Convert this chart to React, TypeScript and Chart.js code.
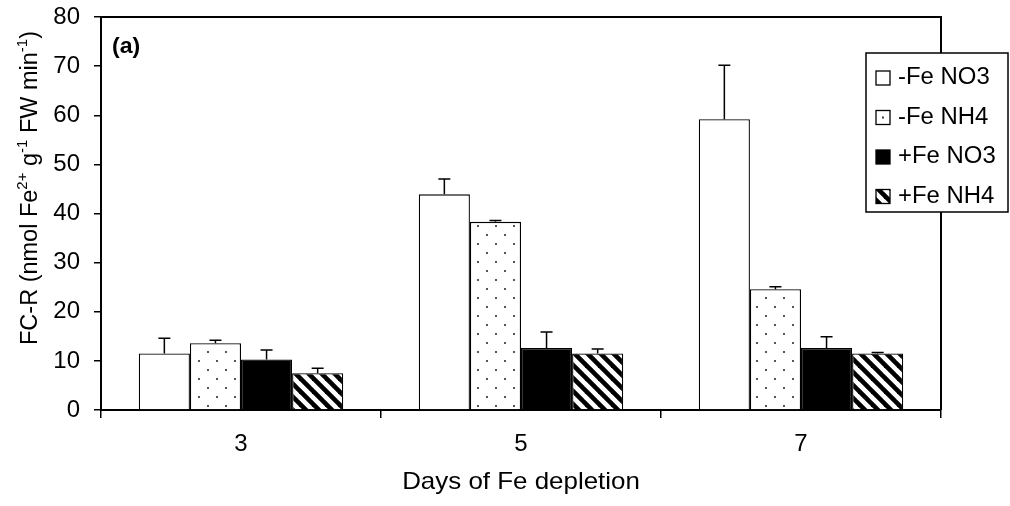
import React, { useEffect, useRef } from 'react';
import { Chart, registerables } from 'chart.js';

Chart.register(...registerables);

// ---- data ----
const days = ['3', '5', '7'];
const seriesLabels = ['-Fe NO3', '-Fe NH4', '+Fe NO3', '+Fe NH4'];
const minusFeNO3 = [11.5, 43.9, 59.2];
const minusFeNH4 = [13.6, 38.3, 24.6];
const plusFeNO3 = [10.3, 12.6, 12.6];
const plusFeNH4 = [7.5, 11.5, 11.5];
const minusFeNO3Err = [3.1, 3.1, 11.0];
const minusFeNH4Err = [0.6, 0.3, 0.5];
const plusFeNO3Err = [1.9, 3.3, 2.3];
const plusFeNH4Err = [1.0, 0.9, 0.2];
const yMin = 0;
const yMax = 80;
const yStep = 10;
const panelLabel = '(a)';
const xTitle = 'Days of Fe depletion';
const yTitleParts = [
  { t: 'FC-R (nmol Fe', sup: false },
  { t: '2+', sup: true },
  { t: ' g', sup: false },
  { t: '-1', sup: true },
  { t: ' FW min', sup: false },
  { t: '-1', sup: true },
  { t: ')', sup: false },
];

const FAMILY = '"Liberation Sans", Arial, Helvetica, sans-serif';

function makeDots(): CanvasPattern | string {
  const c = document.createElement('canvas');
  c.width = 18;
  c.height = 18;
  const g = c.getContext('2d');
  if (!g) return '#fff';
  g.fillStyle = '#fff';
  g.fillRect(0, 0, 18, 18);
  g.fillStyle = '#555';
  g.fillRect(0, 0, 2, 2);
  g.fillRect(9, 9, 2, 2);
  return g.createPattern(c, 'repeat') || '#fff';
}

function makeStripes(): CanvasPattern | string {
  const P = 13;
  const c = document.createElement('canvas');
  c.width = P;
  c.height = P;
  const g = c.getContext('2d');
  if (!g) return '#000';
  g.fillStyle = '#fff';
  g.fillRect(0, 0, P, P);
  g.strokeStyle = '#000';
  g.lineWidth = P / (2 * Math.SQRT2);
  for (const k of [-1, 0, 1]) {
    g.beginPath();
    g.moveTo(k * P - 3, -3);
    g.lineTo(k * P + P + 3, P + 3);
    g.stroke();
  }
  return g.createPattern(c, 'repeat') || '#000';
}

function stretchText(
  ctx: CanvasRenderingContext2D,
  text: string,
  x: number,
  y: number,
  font: string,
  sx: number,
  align: CanvasTextAlign,
  baseline: CanvasTextBaseline
) {
  ctx.save();
  ctx.font = font;
  ctx.textAlign = align;
  ctx.textBaseline = baseline;
  ctx.fillStyle = '#000';
  ctx.translate(x, y);
  ctx.scale(sx, 1);
  ctx.fillText(text, 0, 0);
  ctx.restore();
}

export default function App() {
  const ref = useRef<HTMLCanvasElement>(null);

  useEffect(() => {
    const canvas = ref.current;
    if (!canvas) return;
    const dots = makeDots();
    const stripes = makeStripes();
    const fills: any[] = ['#ffffff', dots, '#000000', stripes];
    const values = [minusFeNO3, minusFeNH4, plusFeNO3, plusFeNH4];
    const errors = [minusFeNO3Err, minusFeNH4Err, plusFeNO3Err, plusFeNH4Err];

    const custom = {
      id: 'custom',
      afterDatasetsDraw(chart: any) {
        const ctx: CanvasRenderingContext2D = chart.ctx;
        const ys = chart.scales.y;
        ctx.save();
        ctx.strokeStyle = '#000';
        ctx.lineWidth = 1.5;
        chart.data.datasets.forEach((ds: any, di: number) => {
          const meta = chart.getDatasetMeta(di);
          meta.data.forEach((bar: any, i: number) => {
            const v = values[di][i];
            const e = errors[di][i];
            const yTop = ys.getPixelForValue(v);
            const yE = ys.getPixelForValue(v + e);
            ctx.beginPath();
            ctx.moveTo(bar.x, yTop);
            ctx.lineTo(bar.x, yE);
            ctx.moveTo(bar.x - 6, yE);
            ctx.lineTo(bar.x + 6, yE);
            ctx.stroke();
          });
        });
        ctx.restore();
      },
      afterDraw(chart: any) {
        const ctx: CanvasRenderingContext2D = chart.ctx;
        const a = chart.chartArea;
        const xs = chart.scales.x;
        const ys = chart.scales.y;
        // frame top/right
        ctx.save();
        ctx.strokeStyle = '#000';
        ctx.lineWidth = 2;
        ctx.beginPath();
        ctx.moveTo(a.left - 1, a.top);
        ctx.lineTo(a.right, a.top);
        ctx.lineTo(a.right, a.bottom);
        ctx.stroke();
        ctx.restore();

        const tickFont = `24px ${FAMILY}`;
        // y tick labels
        ys.ticks.forEach((t: any) => {
          const y = ys.getPixelForValue(t.value);
          stretchText(ctx, String(t.value), 80, y, tickFont, 1.0, 'right', 'middle');
        });
        // x tick labels
        xs.ticks.forEach((t: any, i: number) => {
          const x = xs.getPixelForTick(i);
          stretchText(ctx, xs.getLabelForValue(t.value), x, 444, tickFont, 1.0, 'center', 'middle');
        });
        // x title
        stretchText(ctx, xTitle, (a.left + a.right) / 2, 489, `24px ${FAMILY}`, 1.08, 'center', 'alphabetic');
        // panel label
        stretchText(ctx, panelLabel, 112, 53, `bold 22px ${FAMILY}`, 1.05, 'left', 'alphabetic');

        // y title
        ctx.save();
        ctx.fillStyle = '#000';
        ctx.translate(37, 188);
        ctx.rotate(-Math.PI / 2);
        ctx.textBaseline = 'alphabetic';
        ctx.textAlign = 'left';
        const mainFont = `23.5px ${FAMILY}`;
        const supFont = `15px ${FAMILY}`;
        let total = 0;
        yTitleParts.forEach((p) => {
          ctx.font = p.sup ? supFont : mainFont;
          total += ctx.measureText(p.t).width;
        });
        let px = -total / 2;
        yTitleParts.forEach((p) => {
          ctx.font = p.sup ? supFont : mainFont;
          ctx.fillText(p.t, px, p.sup ? -10 : 0);
          px += ctx.measureText(p.t).width;
        });
        ctx.restore();

        // legend
        const lx = 866, ly = 53, lw = 142, lh = 159;
        ctx.save();
        ctx.fillStyle = '#fff';
        ctx.fillRect(lx, ly, lw, lh);
        ctx.strokeStyle = '#000';
        ctx.lineWidth = 1.5;
        ctx.strokeRect(lx, ly, lw, lh);
        chart.data.datasets.forEach((ds: any, di: number) => {
          const cy = 78 + di * 39.5;
          const ix = 876, iy = cy - 7, isz = 14;
          ctx.save();
          if (di === 1) {
            ctx.fillStyle = '#fff';
            ctx.fillRect(ix, iy, isz, isz);
            ctx.fillStyle = '#444';
            ctx.fillRect(ix + 6, iy + 6, 2, 2);
          } else {
            ctx.fillStyle = ds.backgroundColor;
            ctx.fillRect(ix, iy, isz, isz);
          }
          ctx.strokeStyle = '#000';
          ctx.lineWidth = 1.3;
          ctx.strokeRect(ix, iy, isz, isz);
          ctx.restore();
          stretchText(ctx, ds.label, 898, cy, `23px ${FAMILY}`, 1.04, 'left', 'middle');
        });
        ctx.restore();
      },
    };

    const chart = new Chart(canvas, {
      type: 'bar',
      data: {
        labels: days,
        datasets: seriesLabels.map((label, i) => ({
          label,
          data: values[i],
          backgroundColor: fills[i],
          borderColor: '#000',
          borderWidth: 1.3,
          borderSkipped: 'bottom',
          categoryPercentage: 0.73,
          barPercentage: 1,
        })),
      },
      options: {
        animation: false,
        responsive: false,
        layout: { padding: { left: 0, top: 17, right: 69, bottom: 0 } },
        plugins: {
          legend: { display: false },
          tooltip: { enabled: false },
          title: { display: false },
        },
        scales: {
          x: {
            offset: true,
            z: 1,
            grid: {
              offset: true,
              drawOnChartArea: false,
              drawTicks: true,
              tickLength: 8,
              color: '#000',
              lineWidth: 1.5,
            },
            border: { display: true, color: '#000', width: 2 },
            ticks: { display: false },
            afterFit: (s: any) => {
              s.height = 96;
            },
          },
          y: {
            min: yMin,
            max: yMax,
            z: 1,
            ticks: { stepSize: yStep, display: false },
            grid: {
              drawOnChartArea: false,
              drawTicks: true,
              tickLength: 7,
              color: '#000',
              lineWidth: 1.5,
            },
            border: { display: true, color: '#000', width: 2 },
            afterFit: (s: any) => {
              s.width = 101;
            },
          },
        },
      } as any,
      plugins: [custom],
    });
    return () => chart.destroy();
  }, []);

  return (
    <div style={{ position: 'fixed', left: 0, top: 0, width: 1010, height: 506, background: '#fff' }}>
      <canvas ref={ref} width={1010} height={506} style={{ display: 'block' }} />
    </div>
  );
}
